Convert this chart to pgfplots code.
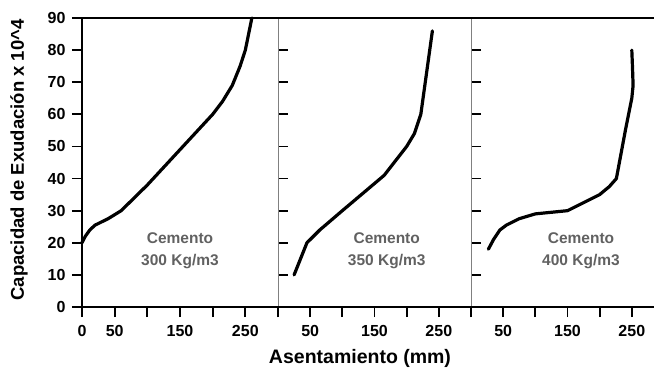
\documentclass[border=0pt]{standalone}
\usepackage{pgfplots}
\pgfplotsset{compat=1.18}
\usepackage{fontspec}
\setmainfont{Liberation Sans}
\tikzset{lab/.style={align=center, text=black!62, font=\bfseries\fontsize{15.5}{22}\selectfont}}
\begin{document}
\begin{tikzpicture}
\pgfplotsset{
  panel/.style={
    scale only axis, height=289pt, ymin=0, ymax=90, xmin=0,
    anchor=south west, axis line style={draw=none},
    clip=false,
    tick align=outside, major tick length=10pt,
    tick style={black, line width=1.8pt},
    ticklabel style={font=\bfseries\fontsize{16}{16}\selectfont},
    /pgf/number format/assume math mode=true,
    xtick pos=left,
    xticklabel style={yshift=-5pt},
    yticklabel style={xshift=-3pt},
  },
  curve/.style={black, line width=3.2pt, line join=round, line cap=round},
}
\path[use as bounding box] (-82pt,-61pt) rectangle (572pt,307pt);
% Panel 1
\begin{axis}[panel, at={(0pt,0pt)}, width=196pt, xmax=300,
  xtick={0,50,...,300}, xticklabels={0,50,,150,,250,},
  ytick={0,10,...,90}, ytick pos=both, yticklabel pos=left]
\addplot[curve] coordinates {(0,20) (5,22) (12,24) (20,25.5) (40,27.5) (60,30) (100,38) (150,49) (200,60) (215,64) (230,69) (242,75) (250,80) (255,85) (260,90)};
\node[lab] at (axis cs:150,17.5) {Cemento\\300 Kg/m3};
\end{axis}
% Panel 2
\begin{axis}[panel, at={(196pt,0pt)}, width=193pt, xmax=300,
  xtick={0,50,...,300}, xticklabels={,50,,150,,250,},
  ytick={10,20,...,80}, ytick pos=right, yticklabels={}]
\addplot[curve] coordinates {(25,10) (30,12.5) (37,16) (45,20) (55,22) (65,24) (100,30) (165,41) (200,50) (212,54) (222,60) (231,73) (240,86)};
\node[lab] at (axis cs:169,17.5) {Cemento\\350 Kg/m3};
\end{axis}
% Panel 3
\begin{axis}[panel, at={(389pt,0pt)}, width=183pt, xmax=284.5,
  xtick={0,50,...,250}, xticklabels={,50,,150,,250},
  ytick=\empty]
\addplot[curve] coordinates {(27,18) (35,21) (45,24) (55,25.5) (75,27.5) (100,29) (150,30) (175,32.5) (200,35) (215,37.5) (226,40) (240,55) (250,65) (252,69) (251,75) (250,80)};
\node[lab] at (axis cs:171,17.5) {Cemento\\400 Kg/m3};
\end{axis}
% frame
\draw[gray, line width=0.8pt] (196pt,0pt) -- (196pt,289pt);
\draw[gray, line width=0.8pt] (389pt,0pt) -- (389pt,289pt);
\draw[black, line width=2.5pt] (0pt,289pt) -- (575pt,289pt);
\draw[black, line width=2.5pt] (0pt,0pt) -- (575pt,0pt);
\draw[black, line width=2.5pt] (0pt,-1.25pt) -- (0pt,290.25pt);
\node[font=\bfseries\fontsize{19.5}{20}\selectfont] at (278pt,-51pt) {Asentamiento (mm)};
\node[rotate=90, font=\bfseries\fontsize{18.5}{19}\selectfont] at (-63pt,147pt) {Capacidad de Exudación x 10\^{}4};
\end{tikzpicture}
\end{document}
